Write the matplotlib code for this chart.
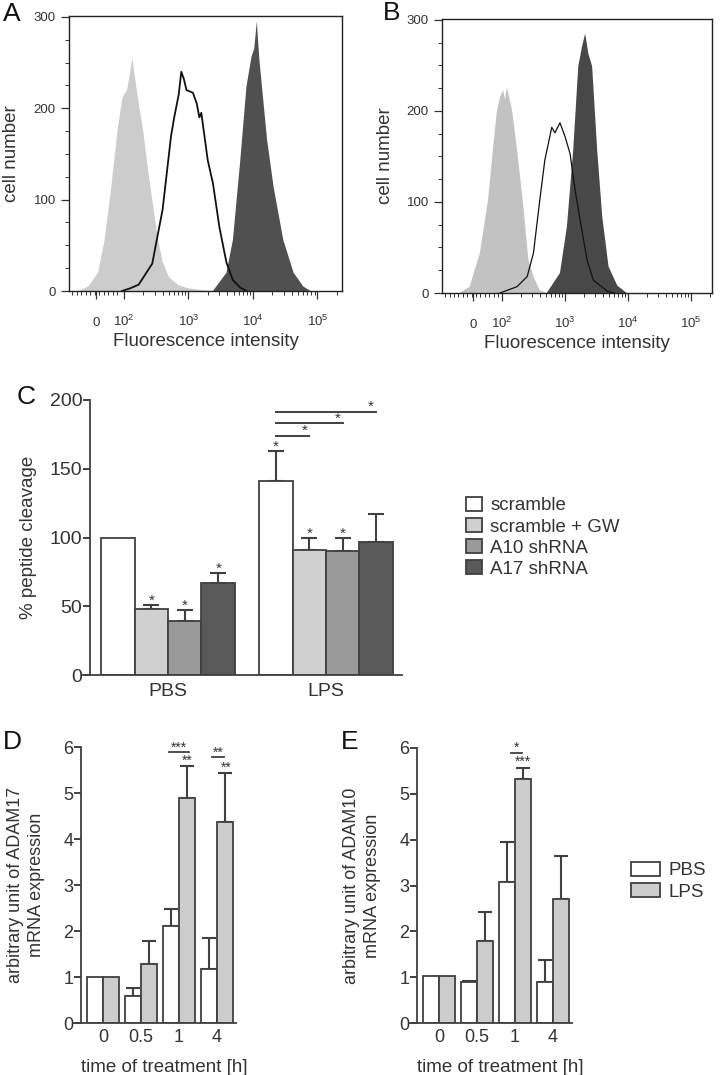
import numpy as np
import matplotlib.pyplot as plt
from matplotlib.patches import Patch

plt.rcParams['font.family'] = ['Liberation Sans', 'DejaVu Sans']
plt.rcParams['mathtext.fontset'] = 'custom'
plt.rcParams['mathtext.rm'] = 'Liberation Sans'
ink = '#333333'
for k in ['text.color', 'axes.labelcolor', 'xtick.color', 'ytick.color', 'axes.edgecolor']:
    plt.rcParams[k] = ink

# ---- panel A/B: flow histograms (x in decades, y = cell number)
a_light_x = [1.30, 1.45, 1.60, 1.70, 1.80, 1.90, 1.98, 2.05, 2.10, 2.13, 2.17, 2.22, 2.30, 2.38, 2.45, 2.52, 2.60, 2.70, 2.85, 3.00, 3.20, 3.35]
a_light_y = [0, 5, 20, 55, 110, 175, 212, 220, 240, 255, 235, 210, 175, 130, 95, 60, 32, 15, 6, 3, 1, 0]
a_line_x = [1.97, 2.10, 2.23, 2.44, 2.60, 2.73, 2.78, 2.85, 2.89, 2.93, 2.97, 3.07, 3.13, 3.17, 3.20, 3.30, 3.38, 3.48, 3.59, 3.69, 3.80, 3.90]
a_line_y = [0, 3, 7, 30, 89, 169, 190, 215, 240, 232, 220, 217, 205, 190, 195, 143, 118, 70, 31, 12, 4, 0]
a_dark_x = [3.38, 3.59, 3.69, 3.80, 3.90, 3.98, 4.02, 4.06, 4.10, 4.22, 4.32, 4.47, 4.63, 4.78, 4.89]
a_dark_y = [0, 20, 56, 140, 224, 257, 265, 295, 253, 165, 114, 56, 20, 5, 0]

b_light_x = [1.33, 1.49, 1.65, 1.78, 1.86, 1.92, 1.97, 2.02, 2.05, 2.08, 2.16, 2.24, 2.33, 2.42, 2.50, 2.60, 2.71]
b_light_y = [0, 7, 44, 102, 160, 200, 215, 223, 212, 226, 201, 157, 102, 36, 18, 3, 0]
b_line_x = [1.97, 2.24, 2.40, 2.50, 2.60, 2.68, 2.79, 2.84, 2.92, 3.00, 3.08, 3.16, 3.24, 3.35, 3.45, 3.67, 3.78]
b_line_y = [0, 7, 18, 44, 102, 146, 182, 176, 187, 172, 153, 113, 80, 36, 14, 2, 0]
b_dark_x = [2.71, 2.92, 3.03, 3.13, 3.21, 3.27, 3.32, 3.37, 3.43, 3.51, 3.59, 3.69, 3.83, 3.98]
b_dark_y = [0, 22, 73, 157, 249, 271, 285, 263, 249, 157, 84, 29, 8, 0]

hist_ticks = ['0', '$10^2$', '$10^3$', '$10^4$', '$10^5$']

# ---- panel C
groups = ['PBS', 'LPS']
conditions = ['scramble', 'scramble + GW', 'A10 shRNA', 'A17 shRNA']
cleavage_pbs = [100, 48, 39, 67]
cleavage_pbs_err = [0, 3, 8, 7]
cleavage_lps = [141, 91, 90, 97]
cleavage_lps_err = [22, 9, 10, 20]
sig_pbs = [False, True, True, True]
sig_lps = [True, True, True, False]
lps_brackets = [(0, 1, 174), (0, 2, 183), (0, 3, 191.5)]

# ---- panels D/E
times = ['0', '0.5', '1', '4']
adam17_pbs = [1.0, 0.58, 2.1, 1.17]
adam17_pbs_err = [0, 0.19, 0.37, 0.68]
adam17_lps = [1.0, 1.28, 4.9, 4.38]
adam17_lps_err = [0, 0.5, 0.69, 1.05]
adam10_pbs = [1.02, 0.89, 3.07, 0.89]
adam10_pbs_err = [0, 0.03, 0.87, 0.48]
adam10_lps = [1.02, 1.78, 5.33, 2.7]
adam10_lps_err = [0, 0.65, 0.23, 0.94]

W, H = 722, 1075
fig = plt.figure(figsize=(W / 100, H / 100), dpi=100)


def fax(l, t, r, b):
    return fig.add_axes([l / W, 1 - b / H, (r - l) / W, (b - t) / H])


def histo(ax, lx, ly, ox, oy, dx, dy, light, dark, lw, xl, zero):
    ax.fill(lx, ly, color=light, lw=0)
    ax.fill(dx, dy, color=dark, lw=0)
    ax.plot(ox, oy, color='#111111', lw=lw)
    ax.set_xlim(*xl)
    ax.set_ylim(0, 301)
    ax.set_xticks([zero, 2, 3, 4, 5], hist_ticks)
    minor = list(np.arange(xl[0] + 0.05, 1.97, 0.07))
    for d in range(2, 6):
        minor += [d + np.log10(k) for k in range(2, 10) if d + np.log10(k) < xl[1]]
    ax.set_xticks(minor, minor=True)
    ax.set_yticks([0, 100, 200, 300])
    ax.set_yticks(np.arange(0, 301, 25), minor=True)
    ax.tick_params(which='major', length=6, width=0.9, labelsize=9.5)
    ax.tick_params(which='minor', length=3, width=0.7)
    ax.tick_params(axis='x', pad=19)
    for t in ax.get_xticklabels():
        t.set_va('baseline')
    for s in ax.spines.values():
        s.set_linewidth(1.0)
        s.set_color('#222222')
    ax.set_xlabel('Fluorescence intensity', fontsize=13.5)
    ax.set_ylabel('cell number', fontsize=13.5)
    ax.xaxis.label.set_va('center')
    ax.yaxis.label.set_va('center')
    ax.xaxis.set_label_coords(0.5, -0.185)


axA = fax(69, 16, 342, 291)
histo(axA, a_light_x, a_light_y, a_line_x, a_line_y, a_dark_x, a_dark_y,
      '#cccccc', '#505050', 1.3, (1.15, 5.38), 1.57)
axA.yaxis.set_label_coords(-0.209, 0.5)

axB = fax(442, 19, 712, 293)
histo(axB, b_light_x, b_light_y, b_line_x, b_line_y, b_dark_x, b_dark_y,
      '#c2c2c2', '#484848', 0.9, (1.05, 5.33), 1.54)
axB.yaxis.set_label_coords(-0.211, 0.5)

# ---- panel C
edge = '#404040'
cond_colors = ['white', '#d0d0d0', '#999999', '#595959']
group_step = 4.72
axC = fax(83, 400, 402, 675)
for g, (vals, errs, sig) in enumerate([(cleavage_pbs, cleavage_pbs_err, sig_pbs),
                                        (cleavage_lps, cleavage_lps_err, sig_lps)]):
    xs = g * group_step + np.arange(4)
    axC.bar(xs, vals, width=1.0, color=cond_colors, edgecolor=edge, linewidth=1.3, zorder=2)
    for x, v, e, s in zip(xs, vals, errs, sig):
        if e > 0:
            axC.errorbar(x, v, yerr=[[0], [e]], fmt='none', ecolor=edge, elinewidth=1.5,
                         capsize=6, capthick=1.5, zorder=1)
        if s:
            axC.text(x, v + e + 3, '*', ha='center', va='center', fontsize=11, color=ink)
for i0, i1, h in lps_brackets:
    x0, x1 = group_step + i0, group_step + i1
    axC.plot([x0, x1], [h, h], color=edge, lw=1.4, clip_on=False)
    axC.text(x1 - 0.15, h + 3.5, '*', ha='center', va='center', fontsize=11, color=ink)
axC.set_xlim(-1.04, 8.49)
axC.set_ylim(0, 200)
axC.set_yticks([0, 50, 100, 150, 200])
axC.set_xticks([1.5, group_step + 1.5], groups)
axC.tick_params(axis='x', length=0, pad=6, labelsize=14)
axC.tick_params(axis='y', length=5, width=1.3, pad=0.5, labelsize=14)
for s in ['top', 'right']:
    axC.spines[s].set_visible(False)
for s in ['left', 'bottom']:
    axC.spines[s].set_linewidth(1.3)
    axC.spines[s].set_color(edge)
axC.spines['left'].set_position(('axes', 7 / 319))
axC.set_ylabel('% peptide cleavage', fontsize=13.5)
axC.yaxis.label.set_va('center')
axC.yaxis.set_label_coords(-0.172, 0.5)
fig.legend([Patch(facecolor=c, edgecolor=edge, linewidth=1.3) for c in cond_colors], conditions,
           loc='upper left', bbox_to_anchor=(466 / W, 1 - 497 / H), frameon=False,
           fontsize=13.5, handlelength=0.85, handleheight=0.75, handletextpad=0.45,
           labelspacing=0.2, borderpad=0, borderaxespad=0)


# ---- panels D/E
def expr_panel(ax, pbs, pbs_err, lps, lps_err, gene):
    xs = np.arange(len(times))
    bw = 0.42
    ax.bar(xs - bw / 2, pbs, width=bw, color='white', edgecolor=edge, linewidth=1.3, zorder=2)
    ax.bar(xs + bw / 2, lps, width=bw, color='#cccccc', edgecolor=edge, linewidth=1.3, zorder=2)
    for x, v, e in zip(xs, pbs, pbs_err):
        if e > 0:
            ax.errorbar(x - bw / 2, v, yerr=[[0], [e]], fmt='none', ecolor=edge,
                        elinewidth=1.5, capsize=5, capthick=1.5, zorder=1)
    for x, v, e in zip(xs, lps, lps_err):
        if e > 0:
            ax.errorbar(x + bw / 2, v, yerr=[[0], [e]], fmt='none', ecolor=edge,
                        elinewidth=1.5, capsize=5, capthick=1.5, zorder=1)
    ax.set_xlim(-0.765, 3.51)
    ax.set_ylim(0, 6)
    ax.set_yticks(range(7))
    ax.set_xticks(xs, times)
    ax.tick_params(axis='x', length=0, pad=4, labelsize=13)
    ax.tick_params(axis='y', length=5, width=1.3, pad=0.5, labelsize=13)
    for s in ['top', 'right']:
        ax.spines[s].set_visible(False)
    for s in ['left', 'bottom']:
        ax.spines[s].set_linewidth(1.3)
        ax.spines[s].set_color(edge)
    ax.spines['left'].set_position(('axes', 0.043))
    ax.set_xlabel('time of treatment [h]', fontsize=13.5)
    ax.xaxis.label.set_va('center')
    ax.xaxis.set_label_coords(0.56, -0.16)
    ax.set_ylabel('arbitrary unit of ' + gene + '\nmRNA expression', fontsize=13,
                  multialignment='center', linespacing=1.25)
    ax.yaxis.label.set_va('center')
    ax.yaxis.set_label_coords(-0.296, 0.5)


axD = fax(74, 747, 236, 1023)
expr_panel(axD, adam17_pbs, adam17_pbs_err, adam17_lps, adam17_lps_err, 'ADAM17')
for x0, x1, h, top, side_x, side_y, side in [(1.74, 2.27, 5.89, '***', 2.22, 5.69, '**'),
                                              (2.88, 3.2, 5.78, '**', 3.24, 5.55, '**')]:
    axD.plot([x0, x1], [h, h], color=edge, lw=1.3, clip_on=False)
    axD.text((x0 + x1) / 2, h + 0.1, top, ha='center', va='center', fontsize=10, color=ink)
    axD.text(side_x, side_y, side, ha='center', va='center', fontsize=10, color=ink)

axE = fax(410, 748, 572, 1023)
expr_panel(axE, adam10_pbs, adam10_pbs_err, adam10_lps, adam10_lps_err, 'ADAM10')
axE.plot([1.91, 2.2], [5.89, 5.89], color=edge, lw=1.3, clip_on=False)
axE.text(2.04, 6.0, '*', ha='center', va='center', fontsize=10, color=ink)
axE.text(2.22, 5.69, '***', ha='center', va='center', fontsize=10, color=ink)
fig.legend([Patch(facecolor=c, edgecolor=edge, linewidth=1.3) for c in ['white', '#cccccc']],
           ['PBS', 'LPS'], loc='upper left', bbox_to_anchor=(631 / W, 1 - 862 / H),
           frameon=False, fontsize=13.5, handlelength=1.55, handleheight=0.75,
           handletextpad=0.45, labelspacing=0.2, borderpad=0, borderaxespad=0)

# panel letters
for letter, x, y in [('A', 12, 14), ('B', 392, 13), ('C', 26, 397), ('D', 12, 742), ('E', 350, 742)]:
    fig.text(x / W, 1 - y / H, letter, fontsize=19, ha='center', va='center', color='#111111')

fig.savefig('out.png', dpi=100)
